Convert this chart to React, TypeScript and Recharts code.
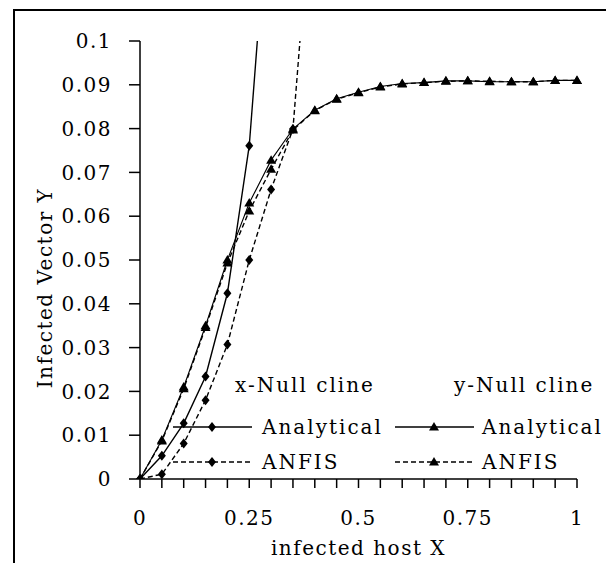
import React from 'react'
import { ScatterChart, Scatter, XAxis, YAxis, Legend, Label } from 'recharts'

// infected host X at each computed step
const hostX = [0, 0.05, 0.1, 0.15, 0.2, 0.25, 0.3, 0.35, 0.4, 0.45, 0.5, 0.55, 0.6, 0.65, 0.7, 0.75, 0.8, 0.85, 0.9, 0.95, 1]

// x-Null cline (leaves the plot at the top, no marker there)
const xNullAnalytical = [0, 0.0053, 0.0127, 0.0234, 0.0424, 0.0761]
const xNullAnalyticalExit = { x: 0.2685, y: 0.1 }
const xNullAnfis = [0, 0.0011, 0.0081, 0.018, 0.0307, 0.05, 0.0661, 0.0799]
const xNullAnfisExit = { x: 0.366, y: 0.1 }

// y-Null cline
const yNullAnalytical = [0, 0.0089, 0.021, 0.035, 0.05, 0.063, 0.0728, 0.0799, 0.0842, 0.0868, 0.0883, 0.0896, 0.0903, 0.0905, 0.0909, 0.0909, 0.0907, 0.0907, 0.0907, 0.091, 0.091]
const yNullAnfis = [0, 0.0087, 0.0206, 0.0346, 0.0493, 0.0612, 0.0707, 0.0797, 0.0841, 0.0867, 0.0882, 0.0895, 0.0902, 0.0905, 0.0908, 0.0909, 0.0908, 0.0907, 0.0907, 0.091, 0.091]

const xTicks = hostX
const xMajor = [0, 0.25, 0.5, 0.75, 1]
const xMajorLabels = ['0', '0.25', '0.5', '0.75', '1']
const yTicks = [0, 0.01, 0.02, 0.03, 0.04, 0.05, 0.06, 0.07, 0.08, 0.09, 0.1]
const yTickLabels = ['0', '0.01', '0.02', '0.03', '0.04', '0.05', '0.06', '0.07', '0.08', '0.09', '0.1']

type Pt = { x: number; y: number; marker: boolean }

const toPoints = (ys: number[], exit?: { x: number; y: number }): Pt[] => {
  const pts = ys.map((y, i) => ({ x: hostX[i], y, marker: true }))
  if (exit) pts.push({ ...exit, marker: false })
  return pts
}

const diamondPath = (cx: number, cy: number) =>
  `${cx},${cy - 5} ${cx + 4},${cy} ${cx},${cy + 5} ${cx - 4},${cy}`
const trianglePath = (cx: number, cy: number) =>
  `${cx},${cy - 5} ${cx + 5},${cy + 3.5} ${cx - 5},${cy + 3.5}`

const DiamondMark = (props: any) => {
  const { cx, cy, payload } = props
  if (!payload?.marker) return <g />
  return <polygon points={diamondPath(cx, cy)} fill="#000" />
}

const TriangleMark = (props: any) => {
  const { cx, cy, payload } = props
  if (!payload?.marker) return <g />
  return <polygon points={trianglePath(cx, cy)} fill="#000" />
}

const xTickFormat = (v: number) => {
  const i = xMajor.findIndex((m) => Math.abs(m - v) < 1e-6)
  return i >= 0 ? xMajorLabels[i] : ''
}
const yTickFormat = (v: number) => {
  const i = yTicks.findIndex((m) => Math.abs(m - v) < 1e-6)
  return i >= 0 ? yTickLabels[i] : ''
}

const dash = '5 3'

function NullclineLegend() {
  const row1 = 427
  const row2 = 462
  const sample = (x1: number, y: number, dashed: boolean, kind: 'd' | 't') => (
    <g>
      <line x1={x1} x2={x1 + 79} y1={y} y2={y} stroke="#000" strokeWidth={1.4} strokeDasharray={dashed ? dash : undefined} />
      <polygon points={kind === 'd' ? diamondPath(x1 + 39, y) : trianglePath(x1 + 39, y)} fill="#000" />
    </g>
  )
  return (
    <svg width={614} height={571} style={{ position: 'absolute', left: 0, top: 0, pointerEvents: 'none', letterSpacing: '2px' }}>
      <g fontSize={20} fill="#000">
        <text x={235} y={392}>x-Null cline</text>
        <text x={454} y={392}>y-Null cline</text>
        {sample(173, row1, false, 'd')}
        <text x={262} y={row1 + 7}>Analytical</text>
        {sample(395, row1, false, 't')}
        <text x={482} y={row1 + 7}>Analytical</text>
        {sample(173, row2, true, 'd')}
        <text x={262} y={row2 + 7}>ANFIS</text>
        {sample(395, row2, true, 't')}
        <text x={482} y={row2 + 7}>ANFIS</text>
      </g>
    </svg>
  )
}

export default function App() {
  return (
    <div
      style={{
        position: 'relative',
        width: 614,
        height: 571,
        margin: -8,
        overflow: 'hidden',
        background: '#fff',
        fontFamily: '"DejaVu Serif", serif',
        letterSpacing: '1.5px',
      }}
    >
      <div style={{ position: 'absolute', left: 13, top: 9, width: 640, height: 640, border: '2px solid #000' }} />
      <ScatterChart width={614} height={571} margin={{ top: 41, right: 37, bottom: 0, left: 0 }}>
        <XAxis
          type="number"
          dataKey="x"
          domain={[0, 1]}
          ticks={xTicks}
          interval={0}
          tickFormatter={xTickFormat}
          tickSize={9}
          tickMargin={23}
          height={92}
          axisLine={{ stroke: '#000', strokeWidth: 1.5 }}
          tickLine={{ stroke: '#000', strokeWidth: 1.5 }}
          tick={{ fill: '#000', fontSize: 20 }}
        >
          <Label value="infected host X" position="insideBottom" offset={16} fill="#000" fontSize={20} />
        </XAxis>
        <YAxis
          type="number"
          dataKey="y"
          domain={[0, 0.1]}
          allowDataOverflow
          ticks={yTicks}
          interval={0}
          tickFormatter={yTickFormat}
          tickSize={11}
          tickMargin={17}
          width={140}
          axisLine={{ stroke: '#000', strokeWidth: 1.5 }}
          tickLine={{ stroke: '#000', strokeWidth: 1.5 }}
          tick={{ fill: '#000', fontSize: 20 }}
        >
          <Label
            content={() => (
              <text x={52} y={288} transform="rotate(-90 52 288)" textAnchor="middle" fontSize={20} fill="#000">
                Infected Vector Y
              </text>
            )}
          />
        </YAxis>
        <Legend verticalAlign="middle" wrapperStyle={{ left: 0, top: 0 }} content={() => <NullclineLegend />} />
        <Scatter
          name="y-Null ANFIS"
          data={toPoints(yNullAnfis)}
          line={{ stroke: '#000', strokeWidth: 1.4, strokeDasharray: dash }}
          shape={TriangleMark}
          isAnimationActive={false}
        />
        <Scatter
          name="y-Null Analytical"
          data={toPoints(yNullAnalytical)}
          line={{ stroke: '#000', strokeWidth: 1.1 }}
          shape={TriangleMark}
          isAnimationActive={false}
        />
        <Scatter
          name="x-Null ANFIS"
          data={toPoints(xNullAnfis, xNullAnfisExit)}
          line={{ stroke: '#000', strokeWidth: 1.4, strokeDasharray: dash }}
          shape={DiamondMark}
          isAnimationActive={false}
        />
        <Scatter
          name="x-Null Analytical"
          data={toPoints(xNullAnalytical, xNullAnalyticalExit)}
          line={{ stroke: '#000', strokeWidth: 1.4 }}
          shape={DiamondMark}
          isAnimationActive={false}
        />
      </ScatterChart>
    </div>
  )
}
